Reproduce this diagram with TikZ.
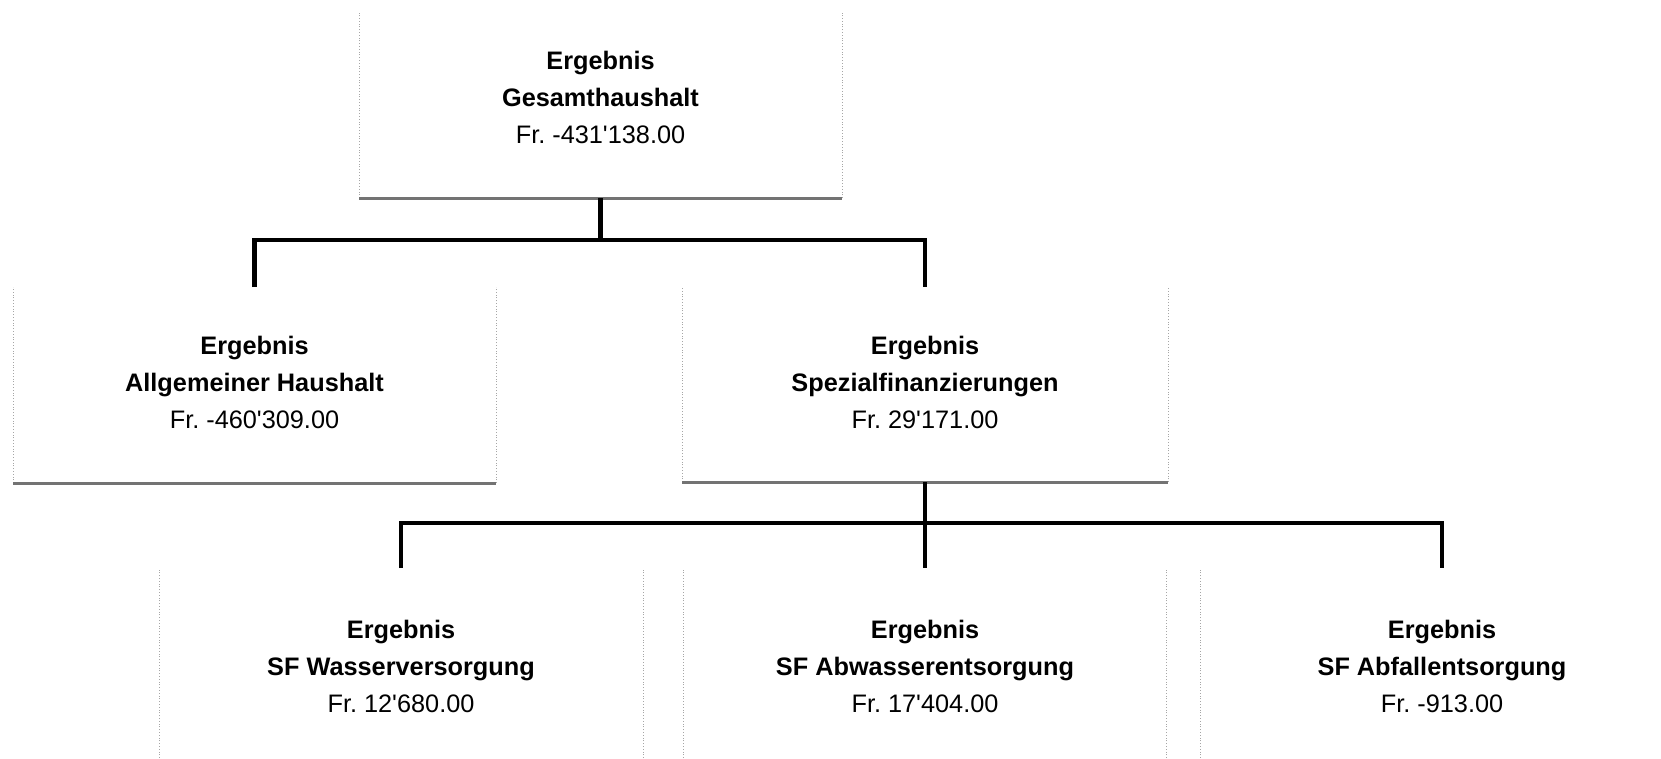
\documentclass[tikz,border=0pt]{standalone}
\usepackage{fontspec}
\setmainfont{Liberation Sans}[Ligatures=TeXOff]
\frenchspacing
\begin{document}
\begin{tikzpicture}[x=1pt,y=-1pt,
  box/.style={inner sep=0pt, outer sep=0pt, draw=none},
  side/.style={draw=black!35, line width=0.8pt, dotted},
  base/.style={draw=black!55, line width=3pt},
  txt/.style={align=center, font=\fontsize{25.3}{37}\selectfont, inner sep=0pt},
  conn/.style={draw=black, line width=4.4pt}]
\useasboundingbox[fill=white] (0,0) rectangle (1661,758);

% boxes
\node[box, minimum width=483pt, minimum height=185pt] (g) at (600.5,105.5) {};
\node[box, minimum width=483pt, minimum height=196pt] (a) at (254.5,385) {};
\node[box, minimum width=486pt, minimum height=195pt] (s) at (925,384.5) {};
\node[box, minimum width=484pt, minimum height=190pt] (w) at (401,663) {};
\node[box, minimum width=483pt, minimum height=190pt] (b) at (925,663) {};
\node[box, minimum width=484pt, minimum height=190pt] (f) at (1442,663) {};

% box edges
\foreach \n in {g,a,s,w,b,f}{
  \draw[side] (\n.south west) -- (\n.north west);
  \draw[side] (\n.south east) -- (\n.north east);
}
\foreach \n in {g,a,s}{
  \draw[base] (\n.south west) -- (\n.south east);
}

% texts
\node[txt] (gt) at (600.5,97.5) {\textbf{Ergebnis}\\\textbf{Gesamthaushalt}\\Fr. -431'138.00};
\node[txt] (at) at (254.5,382) {\textbf{Ergebnis}\\\textbf{Allgemeiner Haushalt}\\Fr. -460'309.00};
\node[txt] (st) at (925,382) {\textbf{Ergebnis}\\\textbf{Spezialfinanzierungen}\\Fr. 29'171.00};
\node[txt] (wt) at (401,666) {\textbf{Ergebnis}\\\textbf{SF Wasserversorgung}\\Fr. 12'680.00};
\node[txt] (bt) at (925,666) {\textbf{Ergebnis}\\\textbf{SF Abwasserentsorgung}\\Fr. 17'404.00};
\node[txt] (ft) at (1442,666) {\textbf{Ergebnis}\\\textbf{SF Abfallentsorgung}\\Fr. -913.00};

% connectors
\draw[conn] (g.south) -- ++(0,42) coordinate (j1);
\draw[conn] (a.north) |- (j1) -| (s.north);
\draw[conn] (s.south) -- ++(0,41) coordinate (j2);
\draw[conn] (w.north) |- (j2) -| (f.north);
\draw[conn] (j2) -- (b.north);
\end{tikzpicture}
\end{document}
